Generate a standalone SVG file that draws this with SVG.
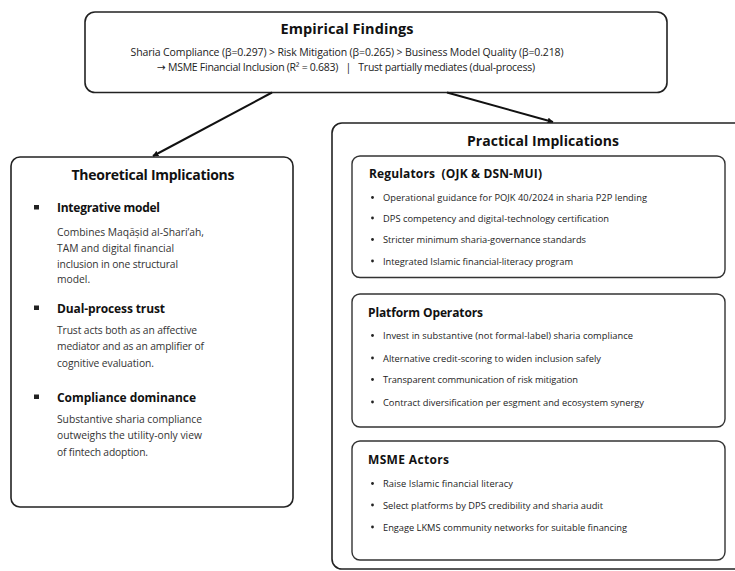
<svg xmlns="http://www.w3.org/2000/svg" width="735" height="571" viewBox="0 0 735 571">
<defs>
<marker id="ah" viewBox="0 0 10 10" refX="9" refY="5" markerWidth="6" markerHeight="6" markerUnits="userSpaceOnUse" orient="auto"><path d="M0,0 L10,5 L0,10 z" fill="#111"/></marker>
<style>
text{font-family:"Open Sans","Noto Sans","DejaVu Sans",sans-serif;fill:#111}
.box{fill:#fff;stroke:#222;stroke-width:1.6}
.sub{fill:#fff;stroke:#333;stroke-width:1.4}
.t1{font-size:14.5px;font-weight:700}
.t2{font-size:14px;font-weight:700}
.h{font-size:12px;font-weight:700}
.d{font-size:10.3px;fill:#333}
.top{font-size:10.5px;fill:#222}
.i{font-size:9.3px;fill:#222}
.dot{fill:#222}
.conn{stroke:#111;stroke-width:2;fill:none}
</style>
</defs>
<rect width="735" height="571" fill="#fff"/>
<g id="empirical-findings">
<rect class="box" x="85" y="12" width="582" height="80.5" rx="10"/>
<text class="t1" x="347" y="34" text-anchor="middle" textLength="133">Empirical Findings</text>
<text class="top" x="347" y="56" text-anchor="middle" textLength="433">Sharia Compliance (β=0.297) &gt; Risk Mitigation (β=0.265) &gt; Business Model Quality (β=0.218)</text>
<text class="top" x="346" y="70.5" text-anchor="middle" textLength="378" xml:space="preserve">→ MSME Financial Inclusion (R² = 0.683)   |   Trust partially mediates (dual-process)</text>
</g>
<g id="connectors">
<line class="conn" x1="272" y1="92.5" x2="153" y2="156" marker-end="url(#ah)"/>
<line class="conn" x1="447" y1="92.5" x2="553" y2="122" marker-end="url(#ah)"/>
</g>
<g id="theoretical-implications">
<rect class="box" x="11" y="157" width="282" height="350" rx="9"/>
<text class="t2" x="153" y="180" text-anchor="middle" textLength="163">Theoretical Implications</text>
<rect class="dot" x="34" y="205" width="5" height="4.5"/>
<text class="h" x="57" y="212" textLength="103">Integrative model</text>
<text class="d" x="57" y="235.5" textLength="147">Combines Maqāṣid al-Shari’ah,</text>
<text class="d" x="57" y="251.5" textLength="117">TAM and digital financial</text>
<text class="d" x="57" y="267.5" textLength="121">inclusion in one structural</text>
<text class="d" x="57" y="283">model.</text>
<rect class="dot" x="34" y="305.5" width="5" height="4.5"/>
<text class="h" x="57" y="312.5" textLength="108">Dual-process trust</text>
<text class="d" x="57" y="333.5" textLength="140">Trust acts both as an affective</text>
<text class="d" x="57" y="350" textLength="147">mediator and as an amplifier of</text>
<text class="d" x="57" y="366.5" textLength="97">cognitive evaluation.</text>
<rect class="dot" x="34" y="394.5" width="5" height="4.5"/>
<text class="h" x="57" y="401.5" textLength="139">Compliance dominance</text>
<text class="d" x="57" y="422.5" textLength="145">Substantive sharia compliance</text>
<text class="d" x="57" y="439" textLength="145">outweighs the utility-only view</text>
<text class="d" x="57" y="455.5" textLength="91">of fintech adoption.</text>
</g>
<g id="practical-implications">
<rect class="box" x="332" y="123" width="420" height="446" rx="10"/>
<text class="t2" x="543" y="145.5" text-anchor="middle" textLength="152">Practical Implications</text>
</g>
<g id="regulators">
<rect class="sub" x="352" y="156" width="373" height="121.5" rx="8"/>
<text class="h" x="369" y="178" textLength="173" xml:space="preserve">Regulators  (OJK &amp; DSN-MUI)</text>
<circle class="dot" cx="372.5" cy="197.5" r="1.4"/>
<text class="i" x="383" y="201" textLength="264">Operational guidance for POJK 40/2024 in sharia P2P lending</text>
<circle class="dot" cx="372.5" cy="218" r="1.4"/>
<text class="i" x="383" y="221.5" textLength="226">DPS competency and digital-technology certification</text>
<circle class="dot" cx="372.5" cy="239.5" r="1.4"/>
<text class="i" x="383" y="243" textLength="203">Stricter minimum sharia-governance standards</text>
<circle class="dot" cx="372.5" cy="261" r="1.4"/>
<text class="i" x="383" y="264.5" textLength="190">Integrated Islamic financial-literacy program</text>
</g>
<g id="platform-operators">
<rect class="sub" x="352" y="294" width="373" height="133" rx="8"/>
<text class="h" x="368" y="316.5" textLength="115">Platform Operators</text>
<circle class="dot" cx="372.5" cy="335.5" r="1.4"/>
<text class="i" x="383" y="339" textLength="250">Invest in substantive (not formal-label) sharia compliance</text>
<circle class="dot" cx="372.5" cy="358" r="1.4"/>
<text class="i" x="383" y="361.5" textLength="218">Alternative credit-scoring to widen inclusion safely</text>
<circle class="dot" cx="372.5" cy="379.5" r="1.4"/>
<text class="i" x="383" y="383" textLength="195">Transparent communication of risk mitigation</text>
<circle class="dot" cx="372.5" cy="402" r="1.4"/>
<text class="i" x="383" y="405.5" textLength="261">Contract diversification per esgment and ecosystem synergy</text>
</g>
<g id="msme-actors">
<rect class="sub" x="352" y="441" width="373" height="119" rx="8"/>
<text class="h" x="368" y="463.5" textLength="81">MSME Actors</text>
<circle class="dot" cx="372.5" cy="483.5" r="1.4"/>
<text class="i" x="383" y="487" textLength="130">Raise Islamic financial literacy</text>
<circle class="dot" cx="372.5" cy="505" r="1.4"/>
<text class="i" x="383" y="508.5" textLength="220">Select platforms by DPS credibility and sharia audit</text>
<circle class="dot" cx="372.5" cy="527" r="1.4"/>
<text class="i" x="383" y="530.5" textLength="244">Engage LKMS community networks for suitable financing</text>
</g>
</svg>
